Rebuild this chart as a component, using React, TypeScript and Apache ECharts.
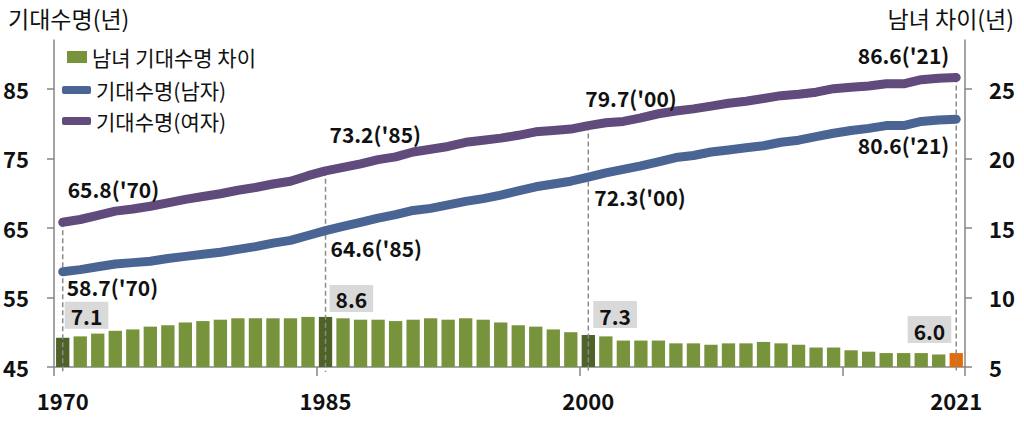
import React, { useEffect, useRef } from "react";
import * as echarts from "echarts";

const years = [
  "1970", "1971", "1972", "1973", "1974", "1975", "1976", "1977", "1978", "1979",
  "1980", "1981", "1982", "1983", "1984", "1985", "1986", "1987", "1988", "1989",
  "1990", "1991", "1992", "1993", "1994", "1995", "1996", "1997", "1998", "1999",
  "2000", "2001", "2002", "2003", "2004", "2005", "2006", "2007", "2008", "2009",
  "2010", "2011", "2012", "2013", "2014", "2015", "2016", "2017", "2018", "2019",
  "2020", "2021",
];

// 남녀 기대수명 차이 (right axis)
const gapValues = [
  7.1, 7.2, 7.4, 7.6, 7.7, 7.9, 8.0, 8.2, 8.3, 8.4,
  8.5, 8.5, 8.5, 8.5, 8.6, 8.6, 8.5, 8.4, 8.4, 8.3,
  8.4, 8.5, 8.4, 8.5, 8.4, 8.2, 8.0, 7.9, 7.7, 7.5,
  7.3, 7.2, 6.9, 6.9, 6.9, 6.7, 6.7, 6.6, 6.7, 6.7,
  6.8, 6.7, 6.6, 6.4, 6.4, 6.2, 6.1, 6.0, 6.0, 6.0,
  5.9, 6.0,
];

// 기대수명(남자)
const maleValues = [
  58.7, 59.0, 59.4, 59.8, 60.0, 60.2, 60.6, 60.9, 61.2, 61.5,
  61.9, 62.3, 62.8, 63.2, 63.9, 64.6, 65.2, 65.8, 66.4, 66.9,
  67.5, 67.8, 68.3, 68.8, 69.2, 69.7, 70.3, 70.9, 71.3, 71.7,
  72.3, 72.9, 73.4, 73.9, 74.5, 75.1, 75.4, 75.9, 76.2, 76.5,
  76.8, 77.3, 77.6, 78.1, 78.6, 79.0, 79.3, 79.7, 79.7, 80.3,
  80.5, 80.6,
];

// 기대수명(여자)
const femaleValues = [
  65.8, 66.2, 66.8, 67.4, 67.7, 68.1, 68.6, 69.1, 69.5, 69.9,
  70.4, 70.8, 71.3, 71.7, 72.5, 73.2, 73.7, 74.2, 74.8, 75.2,
  75.9, 76.3, 76.7, 77.3, 77.6, 77.9, 78.3, 78.8, 79.0, 79.2,
  79.7, 80.1, 80.3, 80.8, 81.4, 81.8, 82.1, 82.5, 82.9, 83.2,
  83.6, 84.0, 84.2, 84.5, 85.0, 85.2, 85.4, 85.7, 85.7, 86.3,
  86.5, 86.6,
];

const leftTicks = [45, 55, 65, 75, 85];
const rightTicks = [5, 10, 15, 20, 25];
const xLabelYears = ["1970", "1985", "2000", "2021"];
const highlightYears = ["1970", "1985", "2000"];
const latestYear = "2021";

const seriesNames = ["남녀 기대수명 차이", "기대수명(남자)", "기대수명(여자)"];
const leftTitle = "기대수명(년)";
const rightTitle = "남녀 차이(년)";

const FONT = '"Noto Sans CJK KR", "Noto Sans", sans-serif';
const TEXT = "#111111";
const GREEN = "#77933c";
const DARK_GREEN = "#4f6228";
const ORANGE = "#e36c09";
const MALE = "#4a6594";
const FEMALE = "#614a7c";
const DASH = "#8a8a8a";
const AXIS = "#868686";

const LABEL_SIZE = 21;
const AXIS_LABEL_SIZE = 22;
const LEGEND_SIZE = 21;
const TITLE_SIZE = 23;

type Place = { align: string; offset: [number, number] };

const barPlace: Record<string, Place> = {
  "1970": { align: "left", offset: [2, -9] },
  "1985": { align: "left", offset: [4, -5] },
  "2000": { align: "left", offset: [5, -7] },
  "2021": { align: "right", offset: [-5, -10] },
};

const femalePlace: Record<string, Place> = {
  "1970": { align: "left", offset: [5, -33] },
  "1985": { align: "left", offset: [4, -36] },
  "2000": { align: "left", offset: [-3, -27] },
  "2021": { align: "right", offset: [-7, -22] },
};

const malePlace: Record<string, Place> = {
  "1970": { align: "left", offset: [4, 16] },
  "1985": { align: "left", offset: [5, 18] },
  "2000": { align: "left", offset: [6, 20] },
  "2021": { align: "right", offset: [-7, 26] },
};

const valueLabelStyle = {
  fontSize: LABEL_SIZE,
  fontWeight: "bold" as const,
  fontFamily: FONT,
  color: TEXT,
};

function lineData(values: number[], place: Record<string, Place>) {
  return values.map((v, i) => {
    const y = years[i];
    const p = place[y];
    if (!p) return v;
    return {
      value: v,
      label: {
        show: true,
        position: "top",
        distance: 0,
        align: p.align,
        verticalAlign: "middle",
        offset: p.offset,
        formatter: `${v.toFixed(1)}('${y.slice(2)})`,
        ...valueLabelStyle,
      },
    };
  });
}

function barData() {
  return gapValues.map((v, i) => {
    const y = years[i];
    const color =
      y === latestYear ? ORANGE : highlightYears.includes(y) ? DARK_GREEN : GREEN;
    const p = barPlace[y];
    const item: any = { value: v, itemStyle: { color } };
    if (p) {
      item.label = {
        show: true,
        position: "top",
        distance: 0,
        align: p.align,
        verticalAlign: "bottom",
        offset: p.offset,
        formatter: v.toFixed(1),
        backgroundColor: "#d9d9d9",
        padding: [4, 6, 2, 6],
        ...valueLabelStyle,
      };
    }
    return item;
  });
}

const dashYears = [...highlightYears, latestYear];

export default function App() {
  const ref = useRef<HTMLDivElement>(null);

  useEffect(() => {
    if (!ref.current) return;
    const chart = echarts.init(ref.current, undefined, { renderer: "svg" });

    const axisLabelStyle = {
      fontSize: AXIS_LABEL_SIZE,
      fontWeight: "bold" as const,
      fontFamily: FONT,
      color: TEXT,
    };
    const legendText = {
      fontSize: LEGEND_SIZE,
      fontFamily: FONT,
      color: TEXT,
      lineHeight: 24,
    };

    const option: any = {
      animation: false,
      backgroundColor: "#ffffff",
      grid: { left: 52, right: 59, top: 40, bottom: 55, containLabel: false },
      graphic: [
        {
          type: "text",
          left: 8,
          top: 6,
          style: { text: leftTitle, fontSize: TITLE_SIZE, fontFamily: FONT, fill: TEXT },
        },
        {
          type: "text",
          right: 10,
          top: 6,
          style: { text: rightTitle, fontSize: TITLE_SIZE, fontFamily: FONT, fill: TEXT },
        },
      ],
      legend: [
        {
          data: [seriesNames[0]],
          left: 67,
          top: 45,
          padding: 0,
          icon: "rect",
          itemWidth: 20,
          itemHeight: 12,
          itemStyle: { borderWidth: 0 },
          textStyle: legendText,
        },
        {
          data: [seriesNames[1], seriesNames[2]],
          orient: "vertical",
          left: 62,
          top: 78,
          padding: 0,
          icon: "roundRect",
          itemWidth: 29,
          itemHeight: 8,
          itemGap: 7,
          itemStyle: { borderWidth: 0 },
          textStyle: legendText,
        },
      ],
      xAxis: {
        type: "category",
        data: years,
        boundaryGap: true,
        axisLine: { show: true, lineStyle: { color: AXIS, width: 1.5 } },
        axisTick: {
          show: true,
          interval: (i: number) => i % 15 === 0,
          length: 9,
          lineStyle: { color: AXIS, width: 1.5 },
        },
        axisLabel: {
          interval: (_i: number, v: string) => xLabelYears.includes(v),
          margin: 22,
          ...axisLabelStyle,
        },
        splitLine: { show: false },
      },
      yAxis: [
        {
          type: "value",
          position: "left",
          min: 45,
          max: 92,
          axisLine: { show: true, lineStyle: { color: AXIS, width: 1.5 } },
          axisTick: {
            show: true,
            length: 7,
            customValues: leftTicks,
            lineStyle: { color: AXIS, width: 1.5 },
          },
          axisLabel: { customValues: leftTicks, margin: 25, ...axisLabelStyle },
          splitLine: { show: false },
        },
        {
          type: "value",
          position: "right",
          min: 5,
          max: 28.5,
          axisLine: { show: true, lineStyle: { color: AXIS, width: 1.5 } },
          axisTick: {
            show: true,
            length: 7,
            customValues: rightTicks,
            lineStyle: { color: AXIS, width: 1.5 },
          },
          axisLabel: { customValues: rightTicks, margin: 24, ...axisLabelStyle },
          splitLine: { show: false },
        },
      ],
      series: [
        {
          name: seriesNames[0],
          type: "bar",
          yAxisIndex: 1,
          barWidth: "76%",
          itemStyle: { color: GREEN },
          data: barData(),
          z: 2,
        },
        {
          type: "custom",
          yAxisIndex: 0,
          silent: true,
          z: 3,
          clip: false,
          data: dashYears.map((y) => [y, femaleValues[years.indexOf(y)]]),
          encode: { x: 0, y: 1 },
          renderItem: (_params: any, api: any) => {
            const top = api.coord([api.value(0), api.value(1)]);
            const base = api.coord([api.value(0), 45]);
            return {
              type: "line",
              shape: { x1: top[0], y1: top[1], x2: top[0], y2: base[1] + 5 },
              style: { stroke: DASH, lineWidth: 1.5, lineDash: [5, 3] },
            };
          },
        },
        {
          name: seriesNames[1],
          type: "line",
          yAxisIndex: 0,
          data: lineData(maleValues, malePlace),
          symbol: "circle",
          symbolSize: 1,
          showSymbol: true,
          showAllSymbol: true,
          itemStyle: { color: MALE, borderWidth: 0 },
          lineStyle: { color: MALE, width: 9, cap: "round", join: "round" },
          z: 4,
        },
        {
          name: seriesNames[2],
          type: "line",
          yAxisIndex: 0,
          data: lineData(femaleValues, femalePlace),
          symbol: "circle",
          symbolSize: 1,
          showSymbol: true,
          showAllSymbol: true,
          itemStyle: { color: FEMALE, borderWidth: 0 },
          lineStyle: { color: FEMALE, width: 9, cap: "round", join: "round" },
          z: 4,
        },
      ],
    };

    chart.setOption(option);
    return () => chart.dispose();
  }, []);

  return (
    <div
      ref={ref}
      style={{ position: "fixed", left: 0, top: 0, width: 1024, height: 422 }}
    />
  );
}
